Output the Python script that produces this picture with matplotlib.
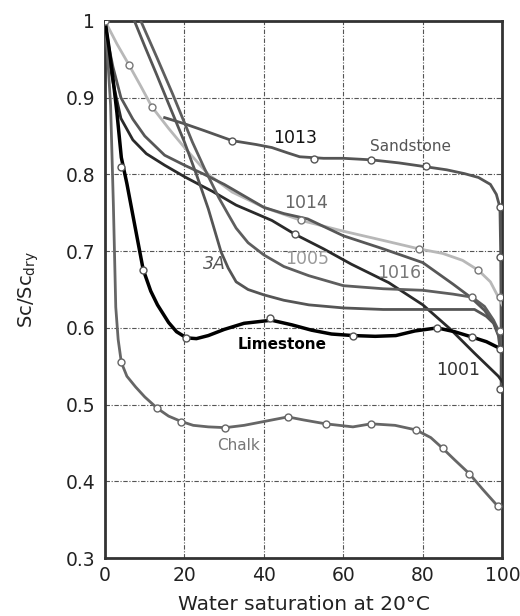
import matplotlib
matplotlib.use('Agg')
import matplotlib.pyplot as plt

# curves (water saturation %, Sc/Sc_dry)
sand_x = [15, 20, 25, 32, 38, 42, 46, 49, 55, 60, 67, 74, 80.7, 86, 90.5, 94, 97, 98.5, 99.4, 99.6, 99.7, 99.7]
sand_y = [0.874, 0.866, 0.857, 0.844, 0.839, 0.835, 0.828, 0.823, 0.821, 0.821, 0.819, 0.815, 0.810, 0.806, 0.801, 0.796, 0.787, 0.774, 0.757, 0.693, 0.60, 0.52]
sand_mx = [32, 52.5, 67, 80.7, 99.4, 99.4, 99.4]
sand_my = [0.844, 0.820, 0.819, 0.811, 0.757, 0.693, 0.52]

s1014_x = [0, 3, 6, 9, 11.8, 16, 20, 26, 32, 40, 49.4, 60, 70, 79, 85, 90, 94, 97, 99, 100]
s1014_y = [1.0, 0.97, 0.943, 0.915, 0.888, 0.86, 0.835, 0.80, 0.777, 0.757, 0.740, 0.726, 0.714, 0.703, 0.697, 0.688, 0.675, 0.66, 0.64, 0.63]
s1014_mx = [0, 6, 11.8, 49.4, 79, 94, 99.3]
s1014_my = [1.0, 0.943, 0.888, 0.740, 0.703, 0.675, 0.64]

s1016_x = [0, 1, 2, 4, 7, 10, 15, 20, 25, 30, 35, 40, 45, 51, 60, 70, 80, 87.6, 92, 95.5, 98, 99.5]
s1016_y = [1.0, 0.965, 0.94, 0.90, 0.872, 0.85, 0.825, 0.812, 0.80, 0.787, 0.772, 0.757, 0.749, 0.742, 0.72, 0.703, 0.685, 0.657, 0.64, 0.623, 0.605, 0.585]
s1016_mx = [99.3]
s1016_my = [0.596]

s1001_x = [0, 1, 2, 4, 7, 10.4, 15, 20, 24, 27, 33, 42, 47.8, 55, 62, 71.4, 80, 87, 93, 99, 100]
s1001_y = [1.0, 0.95, 0.92, 0.873, 0.845, 0.827, 0.812, 0.797, 0.786, 0.778, 0.760, 0.740, 0.722, 0.703, 0.683, 0.659, 0.630, 0.598, 0.567, 0.537, 0.53]
s1001_mx = [47.8]
s1001_my = [0.722]

s1005_x = [9, 13, 17, 22, 25, 28.6, 31, 33, 36, 40, 45, 51.3, 60, 70, 80, 87.6, 92.4, 95.5, 97.8, 99, 99.7]
s1005_y = [1.0, 0.953, 0.905, 0.842, 0.808, 0.77, 0.748, 0.73, 0.711, 0.695, 0.68, 0.668, 0.655, 0.651, 0.649, 0.644, 0.64, 0.628, 0.61, 0.597, 0.58]
s1005_mx = [92.4]
s1005_my = [0.64]

s3a_x = [7.4, 10, 13, 16, 20, 23, 26, 29.2, 31, 33, 36, 40, 45, 51.3, 60, 70, 80, 93, 96, 97.8, 99, 99.5]
s3a_y = [1.0, 0.967, 0.93, 0.892, 0.842, 0.80, 0.755, 0.699, 0.678, 0.66, 0.65, 0.643, 0.636, 0.63, 0.626, 0.624, 0.624, 0.624, 0.615, 0.606, 0.59, 0.57]

lime_x = [0, 1, 2, 3, 4.1, 5.5, 7.4, 9.6, 11.5, 13.2, 16, 18, 20.5, 23, 26, 30, 35, 41.9, 47, 52, 57, 62.4, 68, 73.2, 78, 83.6, 88, 92.4, 96, 99.5]
lime_y = [1.0, 0.965, 0.925, 0.88, 0.822, 0.788, 0.736, 0.676, 0.648, 0.63, 0.607, 0.595, 0.587, 0.586, 0.59, 0.598, 0.606, 0.61, 0.604, 0.597, 0.592, 0.59, 0.589, 0.59, 0.596, 0.60, 0.595, 0.588, 0.582, 0.573]
lime_mx = [4.1, 9.6, 20.5, 41.6, 62.4, 83.6, 92.4, 99.3]
lime_my = [0.81, 0.676, 0.587, 0.613, 0.59, 0.60, 0.588, 0.572]

chalk_x = [0, 0.7, 1.4, 2.1, 2.7, 3.3, 4.1, 5.5, 7.7, 10, 13.2, 16, 19.2, 22.2, 26, 30.3, 35, 40, 46, 50, 55.5, 62.4, 67, 73, 78.3, 82, 85, 88, 91.7, 95, 98.8]
chalk_y = [1.0, 0.95, 0.89, 0.76, 0.627, 0.585, 0.555, 0.537, 0.523, 0.51, 0.495, 0.485, 0.478, 0.473, 0.471, 0.47, 0.473, 0.478, 0.484, 0.48, 0.475, 0.471, 0.475, 0.473, 0.467, 0.457, 0.443, 0.428, 0.41, 0.39, 0.368]
chalk_mx = [4.1, 13.2, 19.2, 30.3, 46, 55.5, 67, 78.3, 85, 91.7, 98.8]
chalk_my = [0.555, 0.495, 0.478, 0.47, 0.484, 0.475, 0.475, 0.467, 0.443, 0.41, 0.368]

xticks = [0, 20, 40, 60, 80, 100]
yticks = [0.3, 0.4, 0.5, 0.6, 0.7, 0.8, 0.9, 1.0]
ytick_labels = ['0.3', '0.4', '0.5', '0.6', '0.7', '0.8', '0.9', '1']

fig = plt.figure(figsize=(5.2, 6.16), dpi=100)
ax = fig.add_axes([0.202, 0.094, 0.764, 0.872])

mk = dict(marker='o', ls='none', ms=5, mfc='white', mew=1, zorder=5)

ax.plot(sand_x, sand_y, c='#555555', lw=2, zorder=3)
ax.plot(sand_mx, sand_my, mec='#555555', **mk)
ax.plot(s1014_x, s1014_y, c='#b8b8b8', lw=2, zorder=3)
ax.plot(s1014_mx, s1014_my, mec='#777777', **mk)
ax.plot(s1016_x, s1016_y, c='#575757', lw=2, zorder=3)
ax.plot(s1016_mx, s1016_my, mec='#666666', **mk)
ax.plot(s1001_x, s1001_y, c='#2a2a2a', lw=2, zorder=3)
ax.plot(s1001_mx, s1001_my, mec='#555555', **mk)
ax.plot(s1005_x, s1005_y, c='#5e5e5e', lw=2, zorder=3)
ax.plot(s1005_mx, s1005_my, mec='#666666', **mk)
ax.plot(s3a_x, s3a_y, c='#555555', lw=2, zorder=3)
ax.plot(lime_x, lime_y, c='black', lw=2.5, zorder=4)
ax.plot(lime_mx, lime_my, mec='#555555', **mk)
ax.plot(chalk_x, chalk_y, c='#666666', lw=2, zorder=3)
ax.plot(chalk_mx, chalk_my, mec='#666666', **mk)

ax.text(47.8, 0.848, '1013', fontsize=12.5, color='#111111', ha='center', va='center')
ax.text(77, 0.836, 'Sandstone', fontsize=11, color='#555555', ha='center', va='center')
ax.text(50.6, 0.763, '1014', fontsize=12.5, color='#666666', ha='center', va='center')
ax.text(50.8, 0.69, '1005', fontsize=12.5, color='#999999', ha='center', va='center')
ax.text(74, 0.671, '1016', fontsize=12.5, color='#777777', ha='center', va='center')
ax.text(27.6, 0.683, '3A', fontsize=12.5, color='#555555', style='italic', ha='center', va='center')
ax.text(44.5, 0.578, 'Limestone', fontsize=11, color='black', weight='bold', ha='center', va='center')
ax.text(89, 0.545, '1001', fontsize=12.5, color='#333333', ha='center', va='center')
ax.text(33.5, 0.447, 'Chalk', fontsize=11, color='#777777', ha='center', va='center')

ax.set_xlim(0, 100)
ax.set_ylim(0.3, 1.0)
ax.set_xticks(xticks)
ax.set_yticks(yticks)
ax.set_yticklabels(ytick_labels)
ax.tick_params(length=0, labelsize=13.5, colors='#222222')
ax.tick_params(axis='x', pad=6)
ax.tick_params(axis='y', pad=7)
ax.grid(True, ls=(0, (4, 1.5, 1, 1.5)), lw=0.8, color='#555555')
ax.set_axisbelow(True)
for s in ax.spines.values():
    s.set_linewidth(2)
    s.set_color('#333333')

ax.set_xlabel('Water saturation at 20\u00b0C', fontsize=14.5, color='#222222', labelpad=7)
ax.set_ylabel('Sc/Sc$_{\\mathrm{dry}}$', fontsize=14, color='#222222', labelpad=18)

fig.savefig('out.png', dpi=100)
